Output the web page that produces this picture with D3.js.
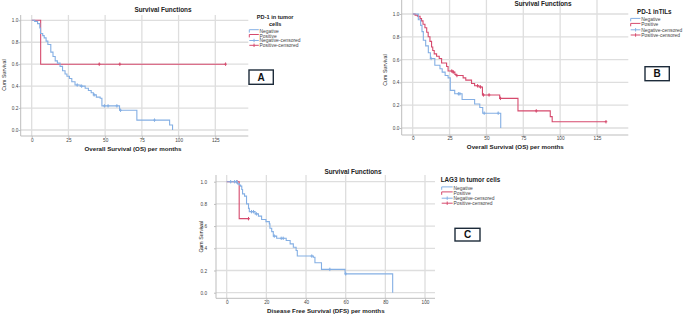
<!DOCTYPE html>
<html><head><meta charset="utf-8">
<script src="https://cdn.jsdelivr.net/npm/d3@7"></script>
<style>
body{margin:0;background:#fff}
svg{display:block}
text{font-family:"Liberation Sans",Arial,sans-serif}
</style>
</head><body>
<svg id="c" width="685" height="315"></svg>
<script>
// ---------------- DATA ----------------
const xTicksOS = [0, 25, 50, 75, 100, 125];
const xTicksDFS = [0, 20, 40, 60, 80, 100];
const yTicks = [0, 0.2, 0.4, 0.6, 0.8, 1.0];
const legendLabels = ["Negative", "Positive", "Negative-censored", "Positive-censored"];
const chartTitle = "Survival Functions";
const yTitle = "Cum Survival";

// Panel A : PD-1 in tumor cells (OS)
const aNegSteps = [[0,1],[2,0.99],[4,0.97],[5.5,0.93],[6,0.88],[7.5,0.86],[8.5,0.84],[9.8,0.81],[11,0.78],[13,0.71],[14.5,0.67],[16,0.63],[17.5,0.61],[19.3,0.58],[21,0.54],[22.7,0.51],[24,0.49],[25.7,0.47],[27.3,0.44],[29.5,0.41],[33,0.40],[36.4,0.38],[38.6,0.36],[40.5,0.34],[42,0.32],[44,0.30],[46.6,0.29],[47.8,0.22],[59.8,0.18],[71.6,0.09],[93.9,0.045],[95.9,0]];
const aNegCensor = [31, 34, 42.5, 49.5, 52, 58, 60.5, 83.6];
const aPosSteps = [[0,1],[6.1,0.6],[132,0.6]];
const aPosCensor = [46, 60, 132];

// Panel B : PD-1 in TILs (OS)
const bNegSteps = [[0,1],[3.8,0.95],[5.4,0.90],[6.3,0.845],[7.2,0.77],[8.8,0.72],[10.6,0.66],[12,0.61],[15,0.55],[18.5,0.52],[20,0.49],[22,0.46],[24,0.44],[25.5,0.33],[28.5,0.30],[33.5,0.25],[42,0.21],[45.5,0.18],[47.5,0.13],[59.7,0]];
const bNegCensor = [12.5, 31, 32, 48.5, 58];
const bPosSteps = [[0,1],[1.6,0.99],[3.2,0.98],[5,0.96],[6,0.94],[7,0.91],[8.3,0.88],[9.5,0.84],[10.5,0.80],[11.7,0.76],[12.8,0.71],[13.6,0.68],[14.6,0.65],[16.2,0.63],[18,0.61],[19.6,0.57],[23,0.54],[24,0.50],[27.5,0.49],[28.6,0.47],[29.5,0.46],[34.2,0.44],[36,0.42],[39.9,0.39],[42,0.37],[45,0.36],[47.3,0.29],[59,0.26],[71.4,0.15],[93.3,0.10],[94.6,0.055],[131.1,0.055]];
const bPosCensor = [26.5, 27.5, 30, 44, 46, 48, 51.8, 59.5, 83.8, 131.1];

// Panel C : LAG3 in tumor cells (DFS)
const cNegSteps = [[0,1],[5.5,0.98],[6.4,0.97],[7,0.96],[7.6,0.93],[8,0.89],[9,0.87],[10,0.80],[11,0.76],[11.4,0.73],[14.3,0.71],[16,0.69],[17.6,0.66],[19.8,0.64],[21.5,0.62],[21.8,0.58],[22.7,0.55],[23.5,0.51],[25.2,0.49],[30,0.47],[32,0.44],[33.6,0.41],[35,0.38],[35.6,0.33],[43.7,0.32],[44.5,0.27],[47.8,0.21],[59.7,0.17],[83.7,0]];
const cNegCensor = [2, 4, 5, 12.5, 13.5, 15, 24, 27.5, 28.5, 42.9, 52, 60];
const cPosSteps = [[0,1],[6.3,0.667],[11.4,0.667]];
const cPosCensor = [5.2, 11];

// ---------------- STYLE / LAYOUT ----------------
const NEG = "#84afe4", POS = "#d64a6d", GRID = "#dedede", AXIS = "#bdbdbd";
const panels = [
  {left:20.7, right:248.3, top:15, bottom:136, x0:31.7, x1:215.3, y1:20.3, y0:130,
   xTicks:xTicksOS, xPad:0.7, yPad:0.4,
   title:[163,10], xTitle:"Overall Survival (OS) per months", xTitlePos:[133,148.8], yTitlePos:[4.3,75],
   legTitle:["PD-1 in tumor","cells"], legTitleMode:"center", legTitlePos:[275.2,17.4], legLineH:6.4, legFont:5.6,
   legItemsY:[31,35.8,40.5,45.3], legSample:[249.3,258.8], legText:259.5,
   box:[249,70,24.3,14.3], letter:"A",
   neg:[aNegSteps,aNegCensor], pos:[aPosSteps,aPosCensor]},
  {left:401.7, right:628.3, top:0, bottom:135, x0:412.7, x1:597, y1:14, y0:128,
   xTicks:xTicksOS, xPad:0, yPad:0.4,
   title:[543,3.3], xTitle:"Overall Survival (OS) per months", xTitlePos:[515.3,147.3], yTitlePos:[385,70],
   legTitle:["PD-1 inTILs"], legTitleMode:"center", legTitlePos:[654.3,11.7], legLineH:5, legFont:6.3,
   legItemsY:[19.7,24.7,29.8,35], legSample:[630.7,640.5], legText:641.2,
   box:[645,66.7,24.3,14], letter:"B",
   neg:[bNegSteps,bNegCensor], pos:[bPosSteps,bPosCensor]},
  {left:216, right:435, top:175, bottom:298.3, x0:226.7, x1:425, y1:181.7, y0:292.7,
   xTicks:xTicksDFS, xPad:0.7, yPad:7,
   title:[353,172], xTitle:"Disease Free Survival (DFS) per months", xTitlePos:[325.8,311.3], yTitlePos:[201,236.7],
   legTitle:["LAG3 in tumor cells"], legTitleMode:"start", legTitlePos:[440.7,180.2], legLineH:5, legFont:6.3,
   legItemsY:[188.2,193.2,198.2,203.2], legSample:[441.7,452.7], legText:453.5,
   box:[455,228.3,25,12.7], letter:"C",
   neg:[cNegSteps,cNegCensor], pos:[cPosSteps,cPosCensor]}
];

const svg = d3.select("#c");

function survAt(steps, t) {
  let s = steps[0][1];
  for (const [tt, ss] of steps) if (tt <= t + 1e-9) s = ss;
  return s;
}

function drawPanel(p) {
  const xMax = p.xTicks[p.xTicks.length - 1];
  const x = d3.scaleLinear().domain([0, xMax]).range([p.x0, p.x1]);
  const y = d3.scaleLinear().domain([0, 1]).range([p.y0, p.y1]);
  const g = svg.append("g");

  // grid
  g.append("g").selectAll("line").data(p.xTicks).join("line")
    .attr("x1", d => x(d)).attr("x2", d => x(d))
    .attr("y1", p.top).attr("y2", p.bottom)
    .attr("stroke", GRID).attr("stroke-width", 1.3);
  g.append("g").selectAll("line").data(yTicks).join("line")
    .attr("x1", p.left).attr("x2", p.right)
    .attr("y1", d => y(d)).attr("y2", d => y(d))
    .attr("stroke", GRID).attr("stroke-width", 1.3);

  // axes
  const xa = g.append("g").attr("transform", `translate(0,${p.bottom})`)
    .call(d3.axisBottom(x).tickValues(p.xTicks).tickSize(2).tickPadding(p.xPad).tickFormat(d3.format("d")));
  const ya = g.append("g").attr("transform", `translate(${p.left},0)`)
    .call(d3.axisLeft(y).tickValues(yTicks).tickSize(2).tickPadding(p.yPad).tickFormat(d3.format(".1f")));
  [xa, ya].forEach(a => {
    a.select(".domain").remove();
    a.selectAll(".tick line").attr("stroke", AXIS);
    a.selectAll(".tick text").attr("fill", "#444").style("font-size", "4.7px")
      .style("font-family", '"Liberation Sans",Arial,sans-serif');
  });
  g.append("line").attr("x1", p.left).attr("x2", p.right).attr("y1", p.bottom).attr("y2", p.bottom)
    .attr("stroke", AXIS).attr("stroke-width", 1);
  g.append("line").attr("x1", p.left).attr("x2", p.left).attr("y1", p.top).attr("y2", p.bottom)
    .attr("stroke", AXIS).attr("stroke-width", 1);

  // curves
  const line = d3.line().x(d => x(d[0])).y(d => y(d[1])).curve(d3.curveStepAfter);
  const series = [[p.pos, POS], [p.neg, NEG]];
  series.forEach(([[steps, cens], col]) => {
    g.append("path").attr("d", line(steps)).attr("fill", "none")
      .attr("stroke", col).attr("stroke-width", 1.1);
    g.append("g").selectAll("path").data(cens).join("path")
      .attr("d", t => {
        const cx = x(t), cy = y(survAt(steps, t));
        return `M${cx},${cy - 1.7}V${cy + 1.7}M${cx - 1.3},${cy}H${cx + 1.3}`;
      })
      .attr("stroke", col).attr("stroke-width", 1).attr("fill", "none");
  });

  // titles
  g.append("text").attr("x", p.title[0]).attr("y", p.title[1]).attr("dy", "0.35em")
    .attr("text-anchor", "middle").style("font-size", "6.4px").style("font-weight", "bold")
    .attr("fill", "#222").text(chartTitle);
  g.append("text").attr("x", p.xTitlePos[0]).attr("y", p.xTitlePos[1]).attr("dy", "0.35em")
    .attr("text-anchor", "middle").style("font-size", "6.2px").style("font-weight", "bold")
    .attr("fill", "#222").text(p.xTitle);
  g.append("text").attr("transform", `translate(${p.yTitlePos[0]},${p.yTitlePos[1]}) rotate(-90)`)
    .attr("dy", "0.35em").attr("text-anchor", "middle").style("font-size", "5.3px")
    .attr("fill", "#222").text(yTitle);

  // legend
  p.legTitle.forEach((t, i) => {
    g.append("text").attr("x", p.legTitlePos[0]).attr("y", p.legTitlePos[1] + i * p.legLineH)
      .attr("dy", "0.35em").attr("text-anchor", p.legTitleMode === "center" ? "middle" : "start")
      .style("font-size", p.legFont + "px").style("font-weight", "bold").attr("fill", "#222").text(t);
  });
  const lg = g.append("g");
  const cols = [NEG, POS, NEG, POS];
  legendLabels.forEach((lab, i) => {
    const yy = p.legItemsY[i];
    const [sx0, sx1] = p.legSample;
    let d;
    if (i < 2) d = `M${sx0},${yy + 1.6}V${yy - 1.3}H${sx1}`;
    else { const m = (sx0 + sx1) / 2; d = `M${sx0},${yy}H${sx1}M${m},${yy - 1.7}V${yy + 1.7}`; }
    lg.append("path").attr("d", d).attr("fill", "none").attr("stroke", cols[i]).attr("stroke-width", 1);
    lg.append("text").attr("x", p.legText).attr("y", yy).attr("dy", "0.35em")
      .style("font-size", "4.9px").attr("fill", "#444").text(lab);
  });

  // panel letter box
  g.append("rect").attr("x", p.box[0]).attr("y", p.box[1]).attr("width", p.box[2]).attr("height", p.box[3])
    .attr("fill", "#fff").attr("stroke", "#1d2b3a").attr("stroke-width", 1.4);
  g.append("text").attr("x", p.box[0] + p.box[2] / 2).attr("y", p.box[1] + p.box[3] / 2).attr("dy", "0.36em")
    .attr("text-anchor", "middle").style("font-size", "10px").style("font-weight", "bold")
    .attr("fill", "#111").text(p.letter);
}

panels.forEach(drawPanel);
</script>
</body></html>
